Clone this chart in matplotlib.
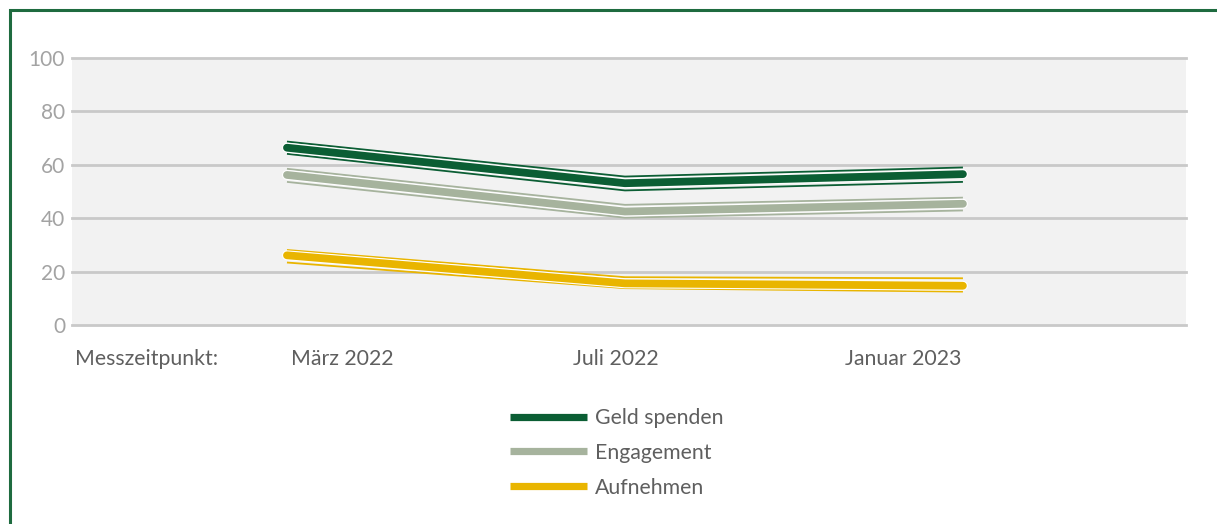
import matplotlib
matplotlib.use("Agg")
import matplotlib.pyplot as plt
from matplotlib.patches import Rectangle
from matplotlib.lines import Line2D
import matplotlib.patheffects as pe

# ---- data ----
zeitpunkte = ["März 2022", "Juli 2022", "Januar 2023"]
x_label_title = "Messzeitpunkt:"
series_names = ["Geld spenden", "Engagement", "Aufnehmen"]
geld_mean = [66.4, 53.1, 56.5]
geld_upper = [68.7, 55.6, 59.0]
geld_lower = [64.1, 50.4, 53.6]
eng_mean = [56.2, 42.5, 45.4]
eng_upper = [58.5, 45.0, 47.7]
eng_lower = [53.6, 40.2, 42.9]
auf_mean = [26.1, 15.6, 14.7]
auf_upper = [28.1, 17.9, 17.5]
auf_lower = [23.4, 13.8, 12.5]
y_ticks = [0, 20, 40, 60, 80, 100]

colors = ["#0b5e34", "#a6b39d", "#e9b500"]

W, H = 1217, 524
fig = plt.figure(figsize=(W / 100, H / 100), dpi=100)
fig.patch.set_facecolor("white")

# frame
fig.patches.append(Rectangle((9.5 / W, -0.05), 1.2, 1 - 9.5 / H + 0.05,
                             transform=fig.transFigure, fill=False,
                             edgecolor="#1e6b3f", linewidth=2.2, zorder=0))

ax = fig.add_axes([72 / W, 1 - 325 / H, (1186 - 72) / W, (325 - 58) / H])
ax.set_facecolor("#f2f2f2")
for s in ax.spines.values():
    s.set_visible(False)

x = list(range(len(zeitpunkte)))
ax.set_xlim(-0.636, 2.66)
ax.set_ylim(0, 100)

for yv in y_ticks:
    ax.axhline(yv, color="#c9c9c9", linewidth=2.0, zorder=1, clip_on=False)

groups = [(geld_mean, geld_upper, geld_lower),
          (eng_mean, eng_upper, eng_lower),
          (auf_mean, auf_upper, auf_lower)]
for (m, u, l), c, name in zip(groups, colors, series_names):
    ax.plot(x, u, color=c, linewidth=1.3, zorder=3, solid_capstyle="butt")
    ax.plot(x, l, color=c, linewidth=1.3, zorder=3, solid_capstyle="butt")
    ax.plot(x, m, color=c, linewidth=5.6, zorder=4, solid_capstyle="round",
            solid_joinstyle="round", label=name,
            path_effects=[pe.Stroke(linewidth=7.2, foreground="white"),
                          pe.Normal()])

ax.set_yticks(y_ticks)
ax.set_yticklabels([str(v) for v in y_ticks], fontsize=15, color="#a3a3a3",
                   family="Lato")
ax.tick_params(axis="y", length=0, pad=5)
ax.set_xticks([])

# x labels
label_left = [291, 573, 845]
fig.text(75 / W, 1 - 359 / H, x_label_title, fontsize=15.3, color="#5f5f5f",
         family="Lato", ha="left", va="center")
for lx, t in zip(label_left, zeitpunkte):
    fig.text(lx / W, 1 - 359 / H, t, fontsize=15.3, color="#5f5f5f",
             family="Lato", ha="left", va="center")

handles = [Line2D([0], [0], color=c, linewidth=5.2, solid_capstyle="butt")
           for c in colors]
leg = fig.legend(handles, series_names, loc="upper left",
                 bbox_to_anchor=(510 / W, 1 - 408 / H),
                 frameon=False, prop={"family": "Lato", "size": 15.3},
                 handlelength=3.6, handletextpad=0.38, labelspacing=0.7,
                 borderpad=0, borderaxespad=0)
for t in leg.get_texts():
    t.set_color("#5f5f5f")

fig.savefig("out.png", dpi=100, facecolor="white")
